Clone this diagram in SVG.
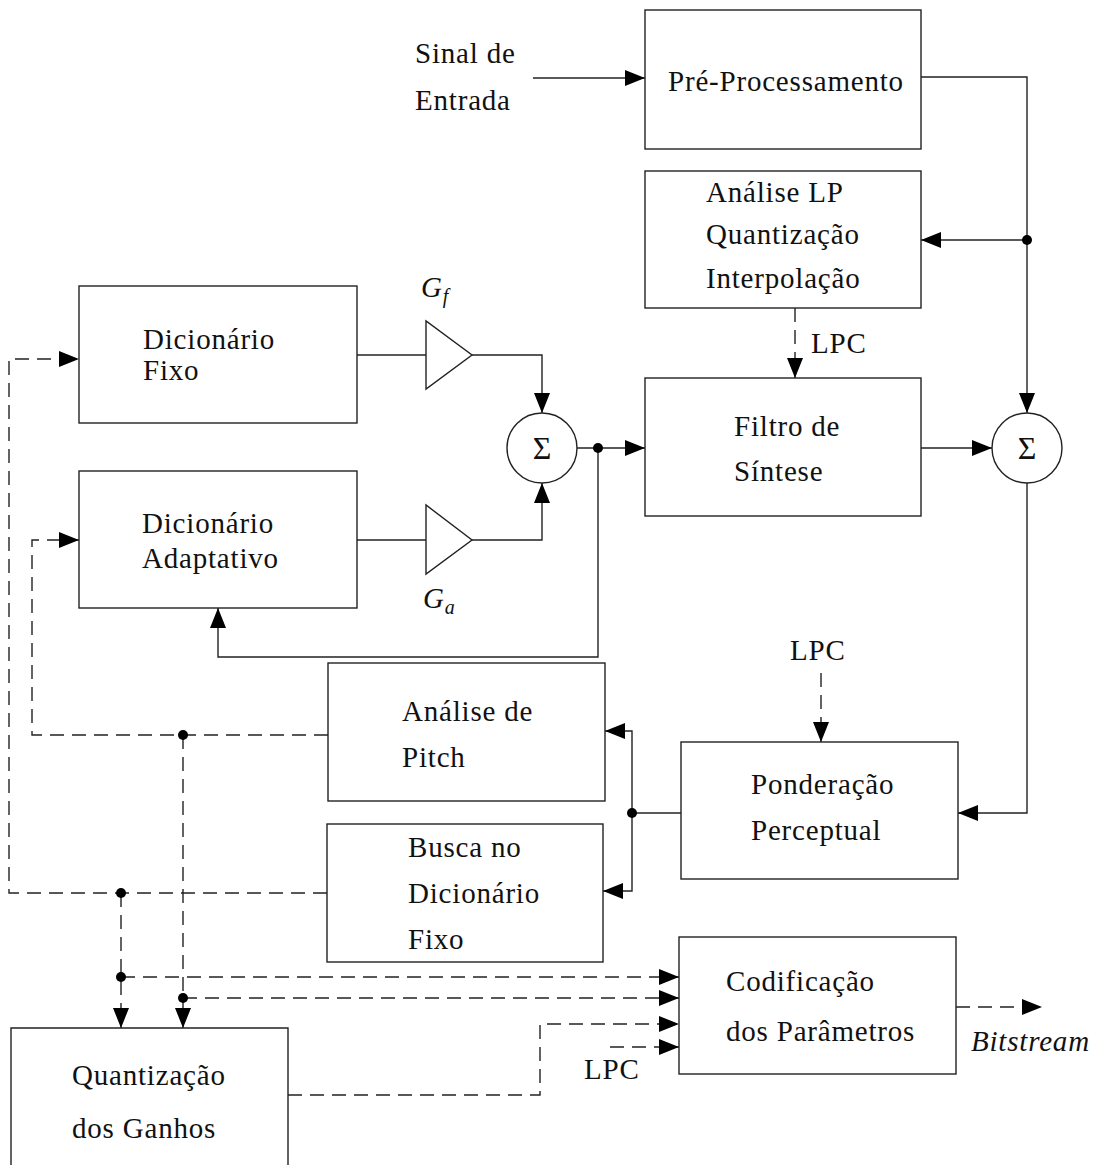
<svg xmlns="http://www.w3.org/2000/svg" width="1094" height="1165" viewBox="0 0 1094 1165">
<style>
  .box { fill: #fff; stroke: #222; stroke-width: 1.4; }
  .t { font-family: "Liberation Serif", "DejaVu Serif", serif; font-size: 29px; fill: #111; letter-spacing: 0.8px; }
  .it { font-style: italic; }
  .ln { fill: none; stroke: #222; stroke-width: 1.4; }
  .dl { fill: none; stroke: #222; stroke-width: 1.4; stroke-dasharray: 14 8; }
  .dot { fill: #000; }
  .sig { font-family: "Liberation Serif", "DejaVu Serif", serif; font-size: 32px; fill: #111; text-anchor: middle; }
</style>
<defs>
  <marker id="ah" markerUnits="userSpaceOnUse" markerWidth="20" markerHeight="16" refX="20" refY="8" orient="auto">
    <path d="M0,0 L20,8 L0,16 Z" fill="#000" stroke="none"/>
  </marker>
</defs>
<rect width="1094" height="1165" fill="#fff"/>

<g id="connectors">
  <!-- solid -->
  <path class="ln" d="M533,78 H645" marker-end="url(#ah)"/>
  <path class="ln" d="M921,77 H1027 V413" marker-end="url(#ah)"/>
  <path class="ln" d="M1027,240 H921" marker-end="url(#ah)"/>
  <path class="ln" d="M921,448 H992" marker-end="url(#ah)"/>
  <path class="ln" d="M1027,483 V813 H958" marker-end="url(#ah)"/>
  <path class="ln" d="M357,355 H426"/>
  <path class="ln" d="M472,355 H542 V413" marker-end="url(#ah)"/>
  <path class="ln" d="M357,540 H426"/>
  <path class="ln" d="M472,540 H542 V483" marker-end="url(#ah)"/>
  <path class="ln" d="M577,448 H645" marker-end="url(#ah)"/>
  <path class="ln" d="M598,448 V657 H218 V608" marker-end="url(#ah)"/>
  <path class="ln" d="M681,813 H632"/>
  <path class="ln" d="M632,813 V731 H605" marker-end="url(#ah)"/>
  <path class="ln" d="M632,813 V891 H603" marker-end="url(#ah)"/>
  <!-- dashed -->
  <path class="dl" d="M795,308 V378" marker-end="url(#ah)"/>
  <path class="dl" d="M821,673 V742" marker-end="url(#ah)"/>
  <path class="dl" d="M328,735 H32 V540 H79" marker-end="url(#ah)"/>
  <path class="dl" d="M183,735 V1028" marker-end="url(#ah)"/>
  <path class="dl" d="M183,998 H679" marker-end="url(#ah)"/>
  <path class="dl" d="M327,893 H9 V359 H79" marker-end="url(#ah)"/>
  <path class="dl" d="M121,893 V1028" marker-end="url(#ah)"/>
  <path class="dl" d="M121,977 H679" marker-end="url(#ah)"/>
  <path class="dl" d="M288,1095 H540 V1024 H679" marker-end="url(#ah)"/>
  <path class="dl" d="M610,1047 H679" marker-end="url(#ah)"/>
  <path class="dl" d="M956,1007 H1042" marker-end="url(#ah)"/>
  <!-- junction dots -->
  <circle class="dot" cx="1027" cy="240" r="5"/>
  <circle class="dot" cx="598" cy="448" r="5"/>
  <circle class="dot" cx="632" cy="813" r="5"/>
  <circle class="dot" cx="183" cy="735" r="5"/>
  <circle class="dot" cx="121" cy="893" r="5"/>
  <circle class="dot" cx="121" cy="977" r="5"/>
  <circle class="dot" cx="183" cy="998" r="5"/>
</g>

<g id="input-label">
  <text class="t" x="415" y="63">Sinal de</text>
  <text class="t" x="415" y="110">Entrada</text>
</g>

<g id="pre-processamento">
  <rect class="box" x="645" y="10" width="276" height="139"/>
  <text class="t" x="668" y="91">Pré-Processamento</text>
</g>

<g id="analise-lp">
  <rect class="box" x="645" y="171" width="276" height="137"/>
  <text class="t" x="706" y="202">Análise LP</text>
  <text class="t" x="706" y="244">Quantização</text>
  <text class="t" x="706" y="288">Interpolação</text>
</g>

<g id="lpc-label-1"><text class="t" x="811" y="353">LPC</text></g>

<g id="filtro-sintese">
  <rect class="box" x="645" y="378" width="276" height="138"/>
  <text class="t" x="734" y="436">Filtro de</text>
  <text class="t" x="734" y="481">Síntese</text>
</g>

<g id="soma-direita">
  <circle class="box" cx="1027" cy="448" r="35"/>
  <text class="sig" x="1027" y="459">Σ</text>
</g>

<g id="soma-esquerda">
  <circle class="box" cx="542" cy="448" r="35"/>
  <text class="sig" x="542" y="459">Σ</text>
</g>

<g id="dicionario-fixo">
  <rect class="box" x="79" y="286" width="278" height="137"/>
  <text class="t" x="143" y="349">Dicionário</text>
  <text class="t" x="143" y="380">Fixo</text>
</g>

<g id="dicionario-adaptativo">
  <rect class="box" x="79" y="471" width="278" height="137"/>
  <text class="t" x="142" y="533">Dicionário</text>
  <text class="t" x="142" y="568">Adaptativo</text>
</g>

<g id="ganho-fixo">
  <polygon class="box" points="426,321 426,389 472,355"/>
  <text class="t it" x="421" y="297">G<tspan font-size="20" dy="6">f</tspan></text>
</g>

<g id="ganho-adaptativo">
  <polygon class="box" points="426,505 426,574 472,540"/>
  <text class="t it" x="423" y="608">G<tspan font-size="20" dy="6">a</tspan></text>
</g>

<g id="analise-pitch">
  <rect class="box" x="328" y="663" width="277" height="138"/>
  <text class="t" x="402" y="721">Análise de</text>
  <text class="t" x="402" y="767">Pitch</text>
</g>

<g id="busca-dicionario">
  <rect class="box" x="327" y="824" width="276" height="138"/>
  <text class="t" x="408" y="857">Busca no</text>
  <text class="t" x="408" y="903">Dicionário</text>
  <text class="t" x="408" y="949">Fixo</text>
</g>

<g id="lpc-label-2"><text class="t" x="790" y="660">LPC</text></g>

<g id="ponderacao">
  <rect class="box" x="681" y="742" width="277" height="137"/>
  <text class="t" x="751" y="794">Ponderação</text>
  <text class="t" x="751" y="840">Perceptual</text>
</g>

<g id="codificacao">
  <rect class="box" x="679" y="937" width="277" height="137"/>
  <text class="t" x="726" y="991">Codificação</text>
  <text class="t" x="726" y="1041">dos Parâmetros</text>
</g>

<g id="bitstream-label"><text class="t it" x="971" y="1051">Bitstream</text></g>

<g id="lpc-label-3"><text class="t" x="584" y="1079">LPC</text></g>

<g id="quantizacao-ganhos">
  <path class="box" d="M11,1175 V1028 H288 V1175"/>
  <text class="t" x="72" y="1085">Quantização</text>
  <text class="t" x="72" y="1138">dos Ganhos</text>
</g>
</svg>
